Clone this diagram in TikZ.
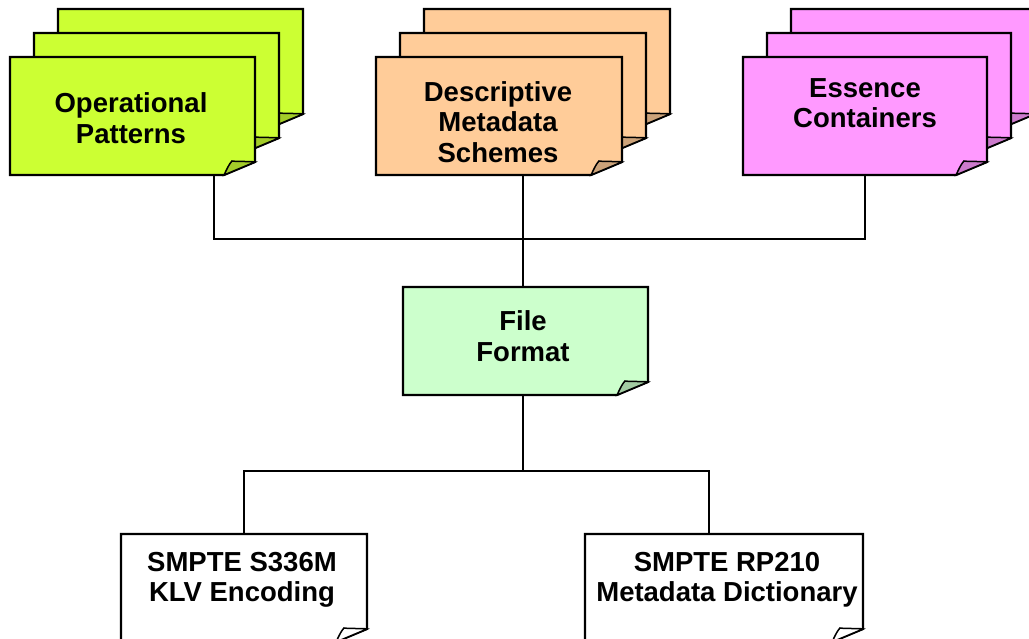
\documentclass[tikz,border=0pt]{standalone}
\usepackage{fontspec}
\setmainfont{Liberation Sans}
\definecolor{opcol}{HTML}{CCFF33}
\definecolor{dmcol}{HTML}{FFCC99}
\definecolor{eccol}{HTML}{FF99FF}
\definecolor{ffcol}{HTML}{CCFFCC}
\tikzset{
  cardline/.style={draw=black, line width=2.2pt, line join=miter},
  cardbox/.style={draw=none, inner sep=0pt, outer sep=0pt},
  cardtext/.style={align=center, inner sep=0pt, font=\fontsize{27.5}{30.5}\selectfont\bfseries},
  wire/.style={draw=black, line width=2pt, line join=miter}
}
% #1 name, #2 left, #3 top, #4 right, #5 bottom, #6 colour, #7 flap colour
\newcommand{\foldcard}[7]{%
  \draw[cardline, fill=#6] (#2,#3) -- (#4,#3) -- (#4,#5-13) -- (#4-31,#5) -- (#2,#5) -- cycle;
  \draw[cardline, line width=1.5pt, fill=#7] (#4-31,#5) .. controls (#4-28,#5-6) and (#4-26,#5-11) .. (#4-23,#5-14)
     .. controls (#4-15,#5-13) and (#4-6,#5-14) .. (#4,#5-13) -- cycle;
  \node[cardbox, minimum width={#4-#2}, minimum height={#5-#3}] (#1) at ({(#2+#4)/2},{(#3+#5)/2}) {};
}
\begin{document}
\begin{tikzpicture}[x=1pt, y=-1pt]
\useasboundingbox (0,0) rectangle (1029,639);
\clip (0,0) rectangle (1029,639);
% Operational Patterns stack
\foldcard{opback}{58}{9}{303}{127}{opcol}{opcol!80!black}
\foldcard{opmid}{34}{33}{279}{151}{opcol}{opcol!80!black}
\foldcard{opbox}{10}{57}{255}{175}{opcol}{opcol!80!black}
\node[cardtext] (optext) at (131,118) {Operational\\Patterns};
% Descriptive Metadata Schemes stack
\foldcard{dmback}{424}{9}{670}{127}{dmcol}{dmcol!80!black}
\foldcard{dmmid}{400}{33}{646}{151}{dmcol}{dmcol!80!black}
\foldcard{dmbox}{376}{57}{622}{175}{dmcol}{dmcol!80!black}
\node[cardtext] (dmtext) at (498,122) {Descriptive\\Metadata\\Schemes};
% Essence Containers stack
\foldcard{ecback}{791}{9}{1035}{127}{eccol}{eccol!80!black}
\foldcard{ecmid}{767}{33}{1011}{151}{eccol}{eccol!80!black}
\foldcard{ecbox}{743}{57}{987}{175}{eccol}{eccol!80!black}
\node[cardtext] (ectext) at (865,103) {Essence\\Containers};
% File Format
\foldcard{ffbox}{403}{287}{648}{395}{ffcol}{ffcol!80!black}
\node[cardtext] (fftext) at (523,336) {File\\Format};
% Bottom cards
\foldcard{klvbox}{121}{534}{367}{642}{white}{white}
\node[cardtext] (klvtext) at (242,580) {SMPTE S336M\\KLV Encoding};
\foldcard{rpbox}{585}{534}{863}{642}{white}{white}
\node[cardtext] (rptext) at (727,580) {SMPTE RP210\\Metadata Dictionary};
% buses
\coordinate (bus) at (523,239);
\coordinate (bus2) at (523,471);
\draw[wire] ([xshift=81pt]opbox.south) |- (bus);
\draw[wire] (ecbox.south) |- (bus);
\draw[wire] (bus |- dmbox.south) -- (bus) -- (bus |- ffbox.north);
\draw[wire] (bus2 |- ffbox.south) -- (bus2);
\draw[wire] (bus2) -| (klvbox.north);
\draw[wire] (bus2) -| ([xshift=-15pt]rpbox.north);
\end{tikzpicture}
\end{document}
